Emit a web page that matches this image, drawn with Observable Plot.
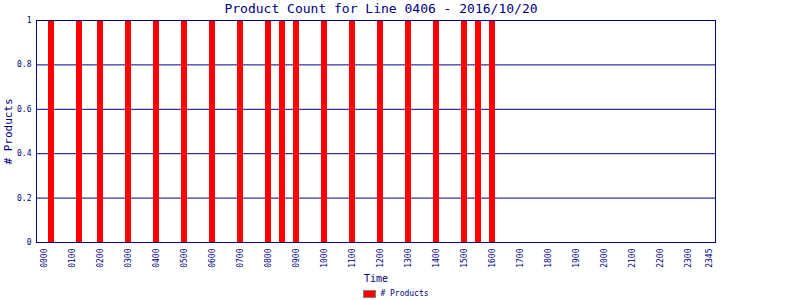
<!DOCTYPE html>
<html>
<head>
<meta charset="utf-8">
<script src="https://cdn.jsdelivr.net/npm/d3@7"></script>
<script src="https://cdn.jsdelivr.net/npm/@observablehq/plot@0.6"></script>
<style>
  html, body { margin: 0; padding: 0; background: white; }
  #wrap { position: relative; width: 800px; height: 300px; overflow: hidden; }
  #leg { position: absolute; left: 0; top: 289px; width: 800px; display: flex; justify-content: center; }
  #leg > div { min-height: 0 !important; margin: 0 !important; font-family: "DejaVu Sans Mono", monospace !important; font-size: 8px !important; color: #000080 !important; }
  #leg span svg { outline: 1px solid #808080; outline-offset: -1px; }
</style>
</head>
<body>
<div id="wrap"><div id="chart"></div><div id="leg"></div></div>
<script>
const title = "Product Count for Line 0406 - 2016/10/20";
const xLabel = "Time";
const yLabel = "# Products";
const seriesName = "# Products";

const slots = [
  "0000","0015","0030","0045","0100","0115","0130","0145",
  "0200","0215","0230","0245","0300","0315","0330","0345",
  "0400","0415","0430","0445","0500","0515","0530","0545",
  "0600","0615","0630","0645","0700","0715","0730","0745",
  "0800","0815","0830","0845","0900","0915","0930","0945",
  "1000","1015","1030","1045","1100","1115","1130","1145",
  "1200","1215","1230","1245","1300","1315","1330","1345",
  "1400","1415","1430","1445","1500","1515","1530","1545",
  "1600","1615","1630","1645","1700","1715","1730","1745",
  "1800","1815","1830","1845","1900","1915","1930","1945",
  "2000","2015","2030","2045","2100","2115","2130","2145",
  "2200","2215","2230","2245","2300","2315","2330","2345"
];
const productTimes = ["0015","0115","0200","0300","0400","0500","0600","0700","0800","0830","0900","1000","1100","1200","1300","1400","1500","1530","1600"];
const productCounts = [1,1,1,1,1,1,1,1,1,1,1,1,1,1,1,1,1,1,1];
const xTickLabels = ["0000","0100","0200","0300","0400","0500","0600","0700","0800","0900","1000","1100","1200","1300","1400","1500","1600","1700","1800","1900","2000","2100","2200","2300","2345"];
const yTicks = [0, 0.2, 0.4, 0.6, 0.8, 1];
const yTickLabels = ["0", "0.2", "0.4", "0.6", "0.8", "1"];

const data = productTimes.map((t, i) => ({time: t, count: productCounts[i]}));
const navy = "#000080";

const chart = Plot.plot({
  width: 800,
  height: 300,
  marginLeft: 36,
  marginRight: 85,
  marginTop: 20,
  marginBottom: 58,
  style: {fontFamily: "DejaVu Sans Mono", fontSize: "8px", color: navy, background: "white"},
  x: {type: "band", domain: slots, range: [40.5, 712.5], paddingInner: 1/7, paddingOuter: 1/14, align: 0.5},
  y: {domain: [0, 1]},
  marks: [
    Plot.ruleY(yTicks, {stroke: navy}),
    Plot.barY(data, {x: "time", y: "count", fill: "#ff0000"}),
    Plot.frame({stroke: navy}),
    Plot.axisX({ticks: xTickLabels, tickSize: 0, tickPadding: 6, tickRotate: -90, label: null, fill: navy}),
    Plot.axisY({ticks: yTicks, tickFormat: (d, i) => yTickLabels[yTicks.indexOf(d)], tickSize: 0, tickPadding: 5, label: null, fill: navy}),
    Plot.text([title], {text: d => d, frameAnchor: "top", dy: -12, dx: 5, lineAnchor: "middle", textAnchor: "middle", fontSize: 13, fill: navy}),
    Plot.text([yLabel], {text: d => d, frameAnchor: "left", dx: -28, rotate: -90, lineAnchor: "middle", textAnchor: "middle", fontSize: 11, fill: navy}),
    Plot.text([xLabel], {text: d => d, frameAnchor: "bottom", dy: 36, lineAnchor: "middle", textAnchor: "middle", fontSize: 10, fill: navy})
  ]
});
document.getElementById("chart").appendChild(chart);

const legend = Plot.legend({
  color: {type: "ordinal", domain: [seriesName], range: ["#ff0000"]},
  swatchWidth: 13,
  swatchHeight: 8
});
document.getElementById("leg").appendChild(legend);
</script>
</body>
</html>
